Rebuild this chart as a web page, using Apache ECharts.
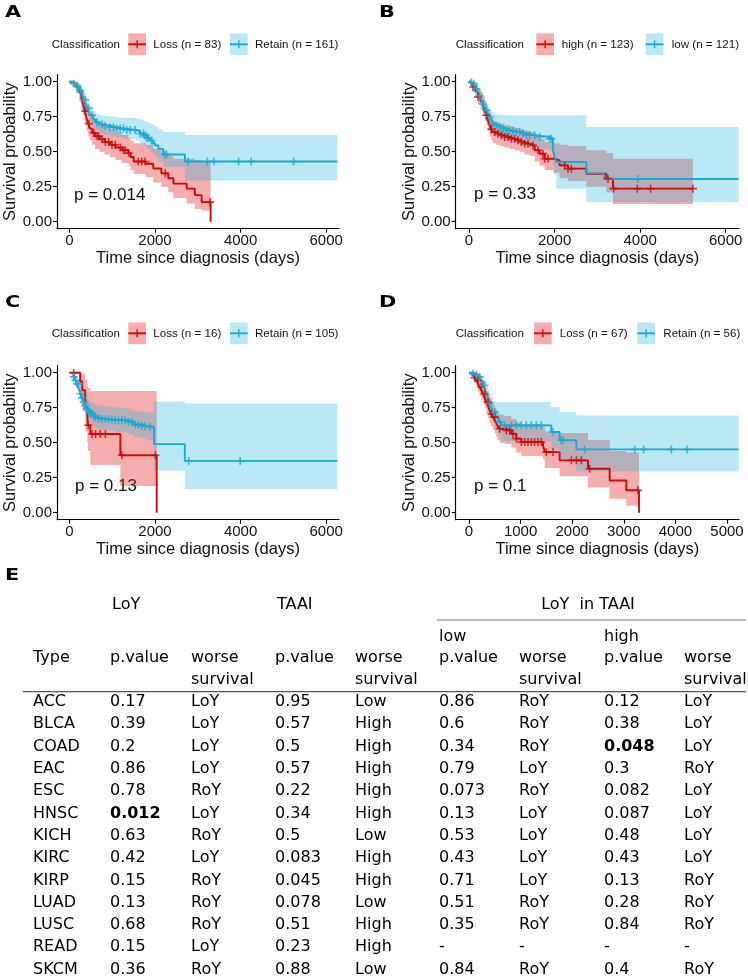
<!DOCTYPE html>
<html><head><meta charset="utf-8">
<script src="https://cdn.jsdelivr.net/npm/echarts@6/dist/echarts.min.js"></script>
<style>html,body{margin:0;padding:0;background:#fff}#c{width:748px;height:977px}</style>
</head><body><div id="c"></div>
<script>
// ---------------- DATA ----------------
const legendTitle = 'Classification';
const aLabels = ['Loss (n = 83)', 'Retain (n = 161)'];
const bLabels = ['high (n = 123)', 'low (n = 121)'];
const cLabels = ['Loss (n = 16)', 'Retain (n = 105)'];
const dLabels = ['Loss (n = 67)', 'Retain (n = 56)'];
const pTexts = ['p = 0.014', 'p = 0.33', 'p = 0.13', 'p = 0.1'];
const panelLetters = ['A', 'B', 'C', 'D'];
const xTitle = 'Time since diagnosis (days)';
const yTitle = 'Survival probability';
const xTicks6000 = [0, 2000, 4000, 6000];
const xTicks5000 = [0, 1000, 2000, 3000, 4000, 5000];
const yTicks = [0, 0.25, 0.5, 0.75, 1];

// Panel A
const aLossTime  = [0,60,150,230,280,320,360,400,440,480,530,600,700,820,950,1080,1230,1380,1430,1500,1780,1960,2150,2310,2430,2740,2930,3090,3300];
const aLossSurv  = [1,.988,.963,.925,.88,.84,.79,.74,.70,.665,.635,.61,.59,.57,.55,.53,.51,.49,.462,.43,.414,.38,.345,.31,.272,.236,.19,.14,0];
const aLossLower = [1,.965,.92,.86,.80,.76,.70,.65,.61,.58,.55,.52,.50,.48,.46,.44,.42,.40,.37,.34,.32,.28,.25,.21,.17,.13,.09,.08,null];
const aLossUpper = [1,1,.995,.98,.95,.92,.88,.84,.80,.77,.74,.72,.70,.68,.66,.64,.62,.60,.58,.56,.55,.52,.49,.47,.45,.45,.44,.43,null];
const aLossCensor = [372,455,566,645,685,760,840,915,995,1070,1190,1265,1305,1385,1610,1690,1770,2240,3290];
const aRetTime  = [0,50,100,150,200,250,300,340,380,420,460,500,560,620,700,800,950,1100,1300,1550,1650,1730,1800,1880,1950,2000,2080,2190,2700,6265];
const aRetSurv  = [1,.995,.985,.97,.955,.935,.90,.87,.84,.81,.78,.76,.73,.71,.695,.685,.675,.665,.655,.645,.63,.615,.60,.58,.56,.545,.52,.48,.43,.43];
const aRetLower = [1,.98,.965,.945,.925,.90,.86,.83,.79,.76,.73,.70,.67,.65,.63,.62,.61,.60,.59,.58,.56,.54,.52,.50,.48,.46,.43,.39,.295,null];
const aRetUpper = [1,1,1,.995,.985,.97,.94,.91,.89,.86,.83,.82,.79,.77,.76,.755,.75,.745,.74,.735,.73,.72,.71,.70,.69,.68,.66,.64,.62,null];
const aRetCensor = [100,178,256,372,450,527,643,760,837,953,1030,1108,1186,1263,1340,1418,1535,1651,1728,1767,1806,1845,1922,2232,2271,2775,3224,3379,3952,4247,5239];

// Panel B
const bHighTime  = [0,50,93,150,210,270,327,370,405,440,483,520,561,640,717,830,950,1070,1184,1300,1418,1535,1652,1768,1963,2119,2314,2742,3210,3365,5235];
const bHighSurv  = [1,.985,.962,.93,.89,.86,.83,.79,.76,.725,.69,.66,.64,.628,.617,.605,.593,.581,.569,.557,.545,.51,.486,.45,.438,.402,.379,.343,.307,.236,.236];
const bHighLower = [1,.96,.93,.89,.84,.80,.76,.72,.69,.65,.61,.58,.56,.55,.54,.53,.52,.51,.50,.48,.47,.43,.40,.37,.35,.31,.29,.25,.21,.126,null];
const bHighUpper = [1,1,.995,.975,.95,.925,.90,.865,.835,.805,.77,.745,.72,.71,.70,.69,.68,.67,.66,.65,.64,.61,.59,.57,.56,.55,.54,.51,.49,.45,null];
const bHighCensor = [93,210,405,522,600,678,756,834,912,990,1067,1145,1223,1301,1379,1496,1613,1729,1768,1846,2236,2314,2392,3248,3380,3934,4245,5235];
const bLowTime  = [0,50,93,130,171,210,249,290,327,370,405,440,483,520,561,620,678,780,873,1000,1106,1200,1301,1574,1885,1963,2002,2041,2742,3156,6300];
const bLowSurv  = [1,.995,.986,.97,.95,.925,.90,.87,.84,.815,.795,.77,.75,.725,.70,.688,.676,.664,.652,.646,.64,.63,.617,.605,.593,.51,.462,.426,.345,.305,.305];
const bLowLower = [1,.98,.965,.94,.915,.885,.855,.82,.785,.755,.73,.70,.68,.65,.625,.61,.60,.585,.575,.565,.56,.55,.535,.52,.505,.40,.33,.236,.14,.14,null];
const bLowUpper = [1,1,1,.995,.985,.965,.94,.91,.885,.86,.84,.82,.80,.785,.77,.765,.76,.76,.76,.76,.76,.76,.76,.76,.76,.76,.76,.76,.676,.676,null];
const bLowCensor = [55,109,171,249,327,405,483,561,639,717,795,873,950,1028,1106,1184,1262,1340,1418,1535,1652,1885,1930,3950];

// Panel C
const cLossTime  = [0,250,300,370,420,430,490,1190,2040];
const cLossSurv  = [1,.9375,.875,.75,.6875,.625,.5625,.41,0];
const cLossLower = [1,.82,.73,.58,.50,.44,.34,.19,null];
const cLossUpper = [1,1,.99,.95,.92,.89,.87,.87,null];
const cLossCensor = [100,440,530,610,720,840,1225,2010];
const cRetTime  = [0,50,101,140,178,220,256,295,333,370,411,450,488,540,605,680,760,900,1070,1380,1496,1690,1800,1976,2697,6262];
const cRetSurv  = [1,.99,.97,.945,.92,.885,.85,.82,.79,.765,.74,.725,.71,.695,.68,.675,.67,.665,.66,.648,.63,.62,.612,.49,.37,.37];
const cRetLower = [1,.97,.94,.905,.875,.835,.795,.76,.725,.70,.67,.655,.64,.62,.605,.595,.59,.585,.575,.56,.54,.53,.52,.30,.17,null];
const cRetUpper = [1,1,.995,.98,.96,.935,.905,.88,.855,.835,.815,.80,.79,.78,.77,.765,.76,.755,.75,.74,.725,.72,.715,.795,.78,null];
const cRetCensor = [101,140,178,217,256,295,333,372,411,450,488,527,566,605,682,760,837,915,992,1070,1147,1225,1302,1380,1457,1535,1612,1690,1767,1883,2790,3990];

// Panel D
const dLossTime  = [0,40,78,110,142,175,207,240,271,305,336,370,400,430,465,500,530,560,594,691,820,917,1014,1434,1470,1757,2306,2726,3049,3295];
const dLossSurv  = [1,.99,.98,.965,.945,.92,.898,.875,.85,.82,.79,.76,.73,.705,.683,.66,.636,.615,.60,.588,.564,.529,.505,.48,.433,.374,.314,.23,.16,0];
const dLossLower = [1,.975,.95,.925,.895,.865,.835,.81,.78,.745,.71,.675,.64,.615,.59,.565,.54,.52,.50,.49,.465,.43,.405,.38,.32,.26,.18,.10,.05,null];
const dLossUpper = [1,1,1,.995,.985,.97,.955,.94,.92,.895,.87,.84,.815,.79,.77,.75,.73,.71,.70,.69,.67,.645,.62,.61,.58,.57,.52,.44,.43,null];
const dLossCensor = [110,174,239,304,368,433,497,594,723,788,853,917,1014,1079,1143,1208,1272,1337,1401,1498,1628,1983,2080,2177,2339,3275];
const dRetTime  = [0,78,130,174,220,271,305,336,370,400,430,465,510,562,620,1596,1757,2080,5225];
const dRetSurv  = [1,.993,.985,.97,.94,.91,.88,.85,.815,.78,.75,.72,.685,.648,.624,.576,.517,.452,.452];
const dRetLower = [1,.975,.96,.935,.90,.86,.825,.79,.75,.71,.68,.645,.605,.565,.51,.45,.385,.295,null];
const dRetUpper = [1,1,1,.995,.98,.96,.935,.91,.88,.85,.825,.80,.79,.79,.79,.755,.72,.695,null];
const dRetCensor = [78,142,207,304,400,497,594,691,820,917,1014,1111,1208,1305,1401,1628,1789,1822,2242,3211,3385,3921,4225];

// Table E
const tableGroupHeaders = ['LoY', 'TAAI', 'LoY  in TAAI'];
const tableSubHeaders = ['low', 'high'];
const tableColHeaders = ['Type', 'p.value', 'worse\nsurvival', 'p.value', 'worse\nsurvival', 'p.value', 'worse\nsurvival', 'p.value', 'worse\nsurvival'];
const tableType  = ['ACC','BLCA','COAD','EAC','ESC','HNSC','KICH','KIRC','KIRP','LUAD','LUSC','READ','SKCM'];
const loyP       = ['0.17','0.39','0.2','0.86','0.78','0.012','0.63','0.42','0.15','0.13','0.68','0.15','0.36'];
const loyWorse   = ['LoY','LoY','LoY','LoY','RoY','LoY','RoY','LoY','RoY','RoY','RoY','LoY','RoY'];
const taaiP      = ['0.95','0.57','0.5','0.57','0.22','0.34','0.5','0.083','0.045','0.078','0.51','0.23','0.88'];
const taaiWorse  = ['Low','High','High','High','High','High','Low','High','High','Low','High','High','Low'];
const lowP       = ['0.86','0.6','0.34','0.79','0.073','0.13','0.53','0.43','0.71','0.51','0.35','-','0.84'];
const lowWorse   = ['RoY','RoY','RoY','LoY','RoY','LoY','LoY','LoY','LoY','RoY','RoY','-','RoY'];
const highP      = ['0.12','0.38','0.048','0.3','0.082','0.087','0.48','0.43','0.13','0.28','0.84','-','0.4'];
const highWorse  = ['LoY','LoY','LoY','RoY','LoY','LoY','LoY','LoY','RoY','RoY','RoY','-','RoY'];
const boldCells  = [['HNSC', 1], ['COAD', 7]];

// ---------------- STYLE / LAYOUT ----------------
const FP = '"Liberation Sans", Arial, sans-serif';
const FT = '"DejaVu Sans", Verdana, sans-serif';
const RED = '#CC0A0A', BLUE = '#1CA9D3';
const RED_FILL = 'rgba(232,40,40,0.38)', BLUE_FILL = 'rgba(28,182,222,0.30)';
const TXT = '#111';

const panels = [
  {grid:{left:57, top:74.7, width:282, height:154}, xr:[-290,6300], ticks:xTicks6000, labels:aLabels,
   groups:[[aLossTime,aLossSurv,aLossLower,aLossUpper,aLossCensor],[aRetTime,aRetSurv,aRetLower,aRetUpper,aRetCensor]],
   leg:{y:44.3, x:[51.7,128.3,153.3,230,255]}, letter:[5,12.5], p:[74,195]},
  {grid:{left:455.7, top:74.7, width:283.3, height:154}, xr:[-311,6311], ticks:xTicks6000, labels:bLabels,
   groups:[[bHighTime,bHighSurv,bHighLower,bHighUpper,bHighCensor],[bLowTime,bLowSurv,bLowLower,bLowUpper,bLowCensor]],
   leg:{y:44.3, x:[455.7,536.3,561.7,645.7,671.7]}, letter:[379,12.5], p:[474,194.3]},
  {grid:{left:57, top:365.7, width:282, height:154}, xr:[-290,6300], ticks:xTicks6000, labels:cLabels,
   groups:[[cLossTime,cLossSurv,cLossLower,cLossUpper,cLossCensor],[cRetTime,cRetSurv,cRetLower,cRetUpper,cRetCensor]],
   leg:{y:333.3, x:[51.7,128.3,153.3,230,255]}, letter:[5,302.5], p:[75,486.7]},
  {grid:{left:455.7, top:365.7, width:283.3, height:154}, xr:[-258,5233], ticks:xTicks5000, labels:dLabels,
   groups:[[dLossTime,dLossSurv,dLossLower,dLossUpper,dLossCensor],[dRetTime,dRetSurv,dRetLower,dRetUpper,dRetCensor]],
   leg:{y:333.3, x:[455.7,534,559.7,637.3,663.3]}, letter:[379,302.5], p:[474,486.7]}
];

function survAt(T, S, t) {
  let v = S[0];
  for (let i = 0; i < T.length; i++) { if (T[i] <= t) v = S[i]; else break; }
  return v;
}
const PLUS = 'path://M4,0h2v4h4v2h-4v4h-2v-4h-4v-2h4z';

const grids = [], xAxes = [], yAxes = [], series = [], graphic = [];
panels.forEach((p, k) => {
  grids.push(Object.assign({containLabel:false, outerBoundsMode:'none'}, p.grid));
  xAxes.push({
    gridIndex:k, type:'value', min:p.xr[0], max:p.xr[1],
    axisLine:{show:true, onZero:false, lineStyle:{color:'#000', width:1.2}},
    axisTick:{show:true, customValues:p.ticks, length:4, lineStyle:{color:'#000', width:1.1}},
    axisLabel:{customValues:p.ticks, color:TXT, fontSize:15, fontFamily:FP, margin:5, formatter:v => String(Math.round(v))},
    splitLine:{show:false},
    name:xTitle, nameLocation:'middle', nameGap:21,
    nameTextStyle:{fontSize:16.5, color:TXT, fontFamily:FP}
  });
  yAxes.push({
    gridIndex:k, type:'value', min:-0.05, max:1.05,
    axisLine:{show:true, onZero:false, lineStyle:{color:'#000', width:1.2}},
    axisTick:{show:true, customValues:yTicks, length:4, lineStyle:{color:'#000', width:1.1}},
    axisLabel:{customValues:yTicks, color:TXT, fontSize:15, fontFamily:FP, margin:5, formatter:v => v.toFixed(2)},
    splitLine:{show:false},
    name:yTitle, nameLocation:'middle', nameGap:36, nameRotate:90,
    nameTextStyle:{fontSize:16.5, color:TXT, fontFamily:FP}
  });
  const cols = [RED, BLUE], fills = [RED_FILL, BLUE_FILL];
  p.groups.forEach((g, j) => {
    const [T, S, L, U] = g;
    series.push({
      type:'custom', xAxisIndex:k, yAxisIndex:k, data:[[T[0], S[0]]], silent:true, z:1, clip:true,
      renderItem:(params, api) => {
        const top = [], bot = [];
        for (let i = 0; i < T.length - 1; i++) {
          if (U[i] == null || L[i] == null) continue;
          top.push(api.coord([T[i], U[i]])); top.push(api.coord([T[i+1], U[i]]));
          bot.push(api.coord([T[i], L[i]])); bot.push(api.coord([T[i+1], L[i]]));
        }
        return {type:'polygon', shape:{points:top.concat(bot.reverse())}, style:{fill:fills[j]}};
      }
    });
  });
  p.groups.forEach((g, j) => {
    const [T, S] = g;
    series.push({
      type:'line', step:'end', xAxisIndex:k, yAxisIndex:k, data:T.map((t, i) => [t, S[i]]),
      showSymbol:false, symbol:'none', silent:true, z:2,
      lineStyle:{color:cols[j], width:1.9}
    });
  });
  p.groups.forEach((g, j) => {
    const [T, S, , , C] = g;
    series.push({
      type:'scatter', xAxisIndex:k, yAxisIndex:k, data:C.map(t => [t, survAt(T, S, t)]),
      symbol:PLUS, symbolSize:8, silent:true, z:3, itemStyle:{color:cols[j]}
    });
  });
  // panel letter
  graphic.push({type:'text', x:p.letter[0], y:p.letter[1], scaleX:1.3, originX:0,
    style:{text:panelLetters[k], font:'bold 16px ' + FT, fill:'#000', textAlign:'left', textVerticalAlign:'middle'}});
  // p value
  graphic.push({type:'text', x:p.p[0], y:p.p[1],
    style:{text:pTexts[k], font:'17px ' + FP, fill:TXT, textAlign:'left', textVerticalAlign:'middle'}});
  // legend
  const ly = p.leg.y, lx = p.leg.x;
  graphic.push({type:'text', x:lx[0], y:ly, style:{text:legendTitle, font:'11.6px ' + FP, fill:TXT, textAlign:'left', textVerticalAlign:'middle'}});
  [0, 1].forEach(j => {
    const bx = lx[1 + 2*j], bw = 17.7, bh = 21.7;
    graphic.push({type:'rect', shape:{x:bx, y:ly - bh/2, width:bw, height:bh}, style:{fill:fills[j]}});
    graphic.push({type:'line', shape:{x1:bx, y1:ly, x2:bx + bw, y2:ly}, style:{stroke:cols[j], lineWidth:1.9}});
    graphic.push({type:'line', shape:{x1:bx + bw/2, y1:ly - 4, x2:bx + bw/2, y2:ly + 4}, style:{stroke:cols[j], lineWidth:1.4}});
    graphic.push({type:'text', x:lx[2 + 2*j], y:ly, style:{text:p.labels[j], font:'11.6px ' + FP, fill:TXT, textAlign:'left', textVerticalAlign:'middle'}});
  });
});

// ---------------- TABLE E ----------------
const colX = [33, 110, 191, 275, 355, 439, 519, 604, 684];
const rowY0 = 702, rowH = 22.3;
const tfont = '16px ' + FT, tfontB = 'bold 16px ' + FT;
function ttext(x, y, s, font, align) {
  graphic.push({type:'text', x:x, y:y, style:{text:s, font:font || tfont, fill:'#000', textAlign:align || 'left', textVerticalAlign:'middle'}});
}
graphic.push({type:'text', x:5, y:575.5, scaleX:1.3, originX:0,
  style:{text:'E', font:'bold 16px ' + FT, fill:'#000', textAlign:'left', textVerticalAlign:'middle'}});
ttext(112, 605, tableGroupHeaders[0]);
ttext(277, 605, tableGroupHeaders[1]);
ttext(588, 605, tableGroupHeaders[2], tfont, 'center');
graphic.push({type:'line', shape:{x1:437, y1:620, x2:746, y2:620}, style:{stroke:'#777', lineWidth:1.2}});
ttext(colX[5], 637, tableSubHeaders[0]);
ttext(colX[7], 637, tableSubHeaders[1]);
tableColHeaders.forEach((h, c) => {
  const parts = h.split('\n');
  ttext(colX[c], 658, parts[0]);
  if (parts[1]) ttext(colX[c], 680, parts[1]);
});
graphic.push({type:'line', shape:{x1:23, y1:691.7, x2:746, y2:691.7}, style:{stroke:'#555', lineWidth:1.2}});
const tableCols = [tableType, loyP, loyWorse, taaiP, taaiWorse, lowP, lowWorse, highP, highWorse];
tableType.forEach((t, r) => {
  tableCols.forEach((col, c) => {
    const bold = boldCells.some(b => b[0] === t && b[1] === c);
    ttext(colX[c], rowY0 + r * rowH, col[r], bold ? tfontB : tfont);
  });
});

const chart = echarts.init(document.getElementById('c'), null, {renderer:'canvas'});
chart.setOption({
  backgroundColor:'#fff', animation:false,
  grid:grids, xAxis:xAxes, yAxis:yAxes, series:series, graphic:graphic
});
</script></body></html>
